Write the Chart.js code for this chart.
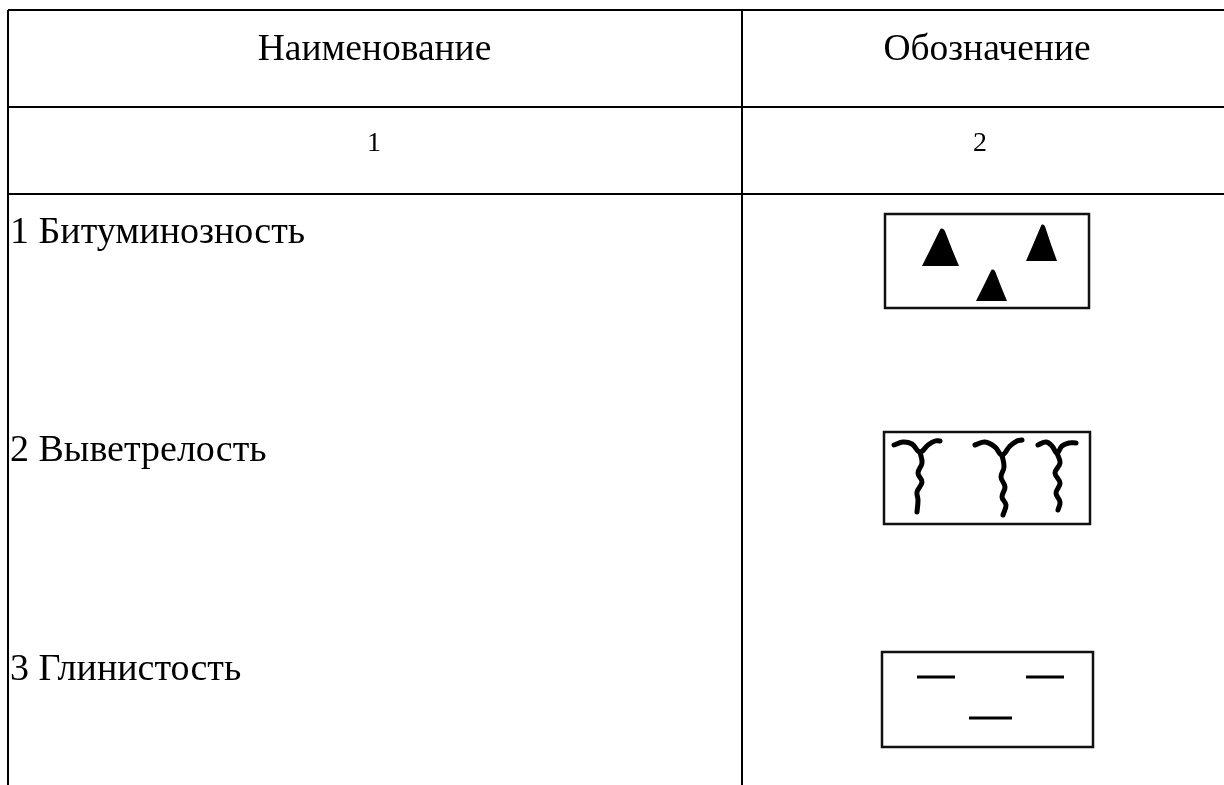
<!DOCTYPE html>
<html><head><meta charset="utf-8">
<script src="https://cdn.jsdelivr.net/npm/chart.js@4"></script>
<style>html,body{margin:0;padding:0;background:#fff;}canvas{display:block;}</style>
</head><body>
<canvas id="c" width="1224" height="785"></canvas>
<script>
// ---------- data ----------
const headers = ['Наименование', 'Обозначение'];
const columnNumbers = ['1', '2'];
const properties = ['1 Битуминозность', '2 Выветрелость', '3 Глинистость'];

// table rules
const columnRules = [8, 742];
const rowRules = [10, 107, 194];

// symbol frames
const frameLeft = [885, 884, 882];
const frameRight = [1089, 1090, 1093];
const frameTop = [214, 432, 652];
const frameBottom = [308, 524, 747];

// bituminosity: triangles (centres)
const triangleX = [940.5, 1041.5, 991.5];
const triangleY = [247, 242.5, 285];

// weathering: three "Y" cracks (arms and wavy stems)
const crackArmX = [
  [894, 903, 912, 920, 928, 935, 940],
  [975, 985, 995, 1002, 1010, 1017, 1022],
  [1038, 1046, 1052, 1057, 1062, 1069, 1076]
];
const crackArmY = [
  [445, 442, 444, 452, 445, 441, 441],
  [445, 442, 447, 455, 446, 441, 440],
  [445, 442, 446, 453, 446, 443, 443]
];
const crackStemX = [
  [920, 922, 918, 922, 917, 918, 917],
  [1002, 1004, 1001, 1005, 1002, 1006, 1003],
  [1057, 1060, 1055, 1060, 1056, 1060, 1058]
];
const crackStemY = [
  [452, 463, 473, 482, 492, 500, 512],
  [455, 467, 477, 487, 497, 505, 515],
  [453, 463, 473, 483, 493, 502, 510]
];

// clayiness: dashes (centres)
const dashX = [936, 1045, 990.5];
const dashY = [677, 677, 718];

// ---------- styles ----------
const triangleSize = [[37, 38], [31, 37], [31, 32]];
const dashHalfLength = [19, 19, 21.5];
const FONT = '"Liberation Serif", "Times New Roman", serif';
const textLayout = {
  header: {size: 37.5, y: 60, x: [374.5, 987]},
  numbers: {size: 28, y: 151, x: [374, 980]},
  rows: {size: 38, x: 10, y: [243, 461, 680]}
};

function triangleGlyph(w, h) {
  const c = document.createElement('canvas');
  c.width = w + 2; c.height = h + 2;
  const g = c.getContext('2d');
  g.fillStyle = '#000';
  g.beginPath();
  g.moveTo(1 + w * 0.5, 1 + h * 0.02);
  g.quadraticCurveTo(1 + w * 0.58, 1 - h * 0.01, 1 + w * 0.62, 1 + h * 0.08);
  g.quadraticCurveTo(1 + w * 0.8, 1 + h * 0.55, 1 + w, 1 + h);
  g.lineTo(1, 1 + h);
  g.quadraticCurveTo(1 + w * 0.26, 1 + h * 0.5, 1 + w * 0.5, 1 + h * 0.02);
  g.closePath();
  g.fill();
  return c;
}

const datasets = [];
frameLeft.forEach((l, i) => {
  datasets.push({
    data: [
      {x: l, y: frameTop[i]}, {x: frameRight[i], y: frameTop[i]},
      {x: frameRight[i], y: frameBottom[i]}, {x: l, y: frameBottom[i]},
      {x: l, y: frameTop[i]}, {x: frameRight[i], y: frameTop[i]}
    ],
    showLine: true, borderColor: '#111', borderWidth: 2.5, pointRadius: 0,
    borderJoinStyle: 'miter', fill: false
  });
});
datasets.push({
  data: triangleX.map((x, i) => ({x, y: triangleY[i]})),
  pointStyle: triangleSize.map(s => triangleGlyph(s[0], s[1])),
  pointRadius: 10, showLine: false
});
crackArmX.forEach((xs, i) => {
  datasets.push({
    data: xs.map((x, j) => ({x, y: crackArmY[i][j]})),
    showLine: true, borderColor: '#000', borderWidth: 5, pointRadius: 0,
    tension: 0.4, borderCapStyle: 'round', borderJoinStyle: 'round', fill: false
  });
  datasets.push({
    data: crackStemX[i].map((x, j) => ({x, y: crackStemY[i][j]})),
    showLine: true, borderColor: '#000', borderWidth: 5, pointRadius: 0,
    tension: 0.4, borderCapStyle: 'round', borderJoinStyle: 'round', fill: false
  });
});
datasets.push({
  data: dashX.map((x, i) => ({x, y: dashY[i]})),
  pointStyle: 'line', pointRadius: dashHalfLength,
  pointBorderWidth: 3, pointBorderColor: '#000', showLine: false
});

const textPlugin = {
  id: 'tableText',
  afterDatasetsDraw(chart) {
    const {ctx, scales: {x, y}} = chart;
    ctx.save();
    ctx.fillStyle = '#000';
    ctx.textBaseline = 'alphabetic';
    ctx.textAlign = 'center';
    ctx.font = textLayout.header.size + 'px ' + FONT;
    headers.forEach((t, i) => ctx.fillText(t, x.getPixelForValue(textLayout.header.x[i]), y.getPixelForValue(textLayout.header.y)));
    ctx.font = textLayout.numbers.size + 'px ' + FONT;
    columnNumbers.forEach((t, i) => ctx.fillText(t, x.getPixelForValue(textLayout.numbers.x[i]), y.getPixelForValue(textLayout.numbers.y)));
    ctx.textAlign = 'left';
    ctx.font = textLayout.rows.size + 'px ' + FONT;
    properties.forEach((t, i) => ctx.fillText(t, x.getPixelForValue(textLayout.rows.x), y.getPixelForValue(textLayout.rows.y[i])));
    ctx.restore();
  }
};

const hiddenAxis = (min, max, rules, reverse) => ({
  type: 'linear', min, max, reverse,
  ticks: {display: false},
  border: {display: false},
  grid: {color: '#000', lineWidth: 2, drawTicks: false},
  afterBuildTicks: s => { s.ticks = rules.map(v => ({value: v})); }
});

new Chart(document.getElementById('c'), {
  type: 'scatter',
  data: {datasets},
  options: {
    responsive: false,
    animation: false,
    layout: {autoPadding: false, padding: {left: 8, top: 10, right: 0, bottom: 0}},
    plugins: {legend: {display: false}, tooltip: {enabled: false}},
    events: [],
    scales: {
      x: hiddenAxis(8, 1224, columnRules, false),
      y: hiddenAxis(10, 785, rowRules, true)
    }
  },
  plugins: [textPlugin]
});
</script>
</body></html>
